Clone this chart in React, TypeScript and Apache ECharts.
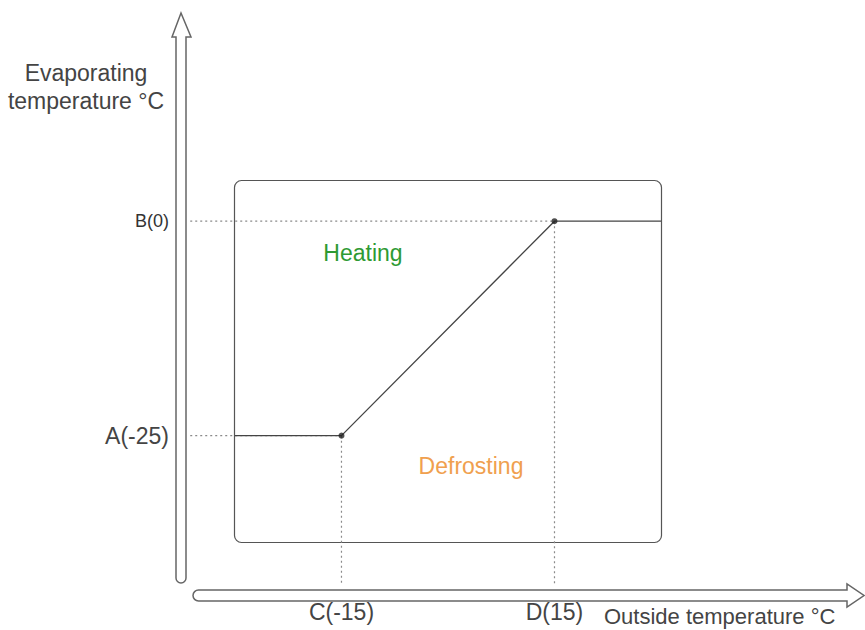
import React, { useEffect, useRef } from "react";
import * as echarts from "echarts";

// ---- data ----
const X_TICK_VALUES = [-15, 15];
const X_TICK_NAMES = ["C(-15)", "D(15)"];
const Y_TICK_VALUES = [-25, 0];
const Y_TICK_NAMES = ["A(-25)", "B(0)"];
const CURVE_X = [-30, -15, 15, 30];
const CURVE_Y = [-25, -25, 0, 0];
const BREAK_X = [-15, 15];
const BREAK_Y = [-25, 0];
const X_RANGE = [-37.6, 30];
const Y_RANGE = [-37.4, 4.8];
const GUIDE_X_START = -36.3;
const GUIDE_Y_END = -42.4;
const ZONE_NAMES = ["Heating", "Defrosting"];

const FONT = "'Liberation Sans', Arial, sans-serif";

echarts.graphic.registerShape(
  "arrowV",
  echarts.graphic.extendPath(
    "M176 578 L176 37 L172 37 L181 13 L191 37 L186 37 L186 578 A5 5 0 0 1 176 578 Z",
    {}
  )
);
echarts.graphic.registerShape(
  "arrowH",
  echarts.graphic.extendPath(
    "M198.5 590 L847 590 L847 584 L864 595.5 L847 607 L847 601 L198.5 601 A5.5 5.5 0 0 1 198.5 590 Z",
    {}
  )
);

export default function App() {
  const ref = useRef<HTMLDivElement>(null);
  useEffect(() => {
    if (!ref.current) return;
    const chart = echarts.init(ref.current, undefined, { renderer: "svg" });
    const curve = CURVE_X.map((x, i) => [x, CURVE_Y[i]]);
    const breaks = BREAK_X.map((x, i) => [x, BREAK_Y[i]]);
    const guideStyle = { color: "#8a8a8a", width: 1.2, type: [2, 3] };
    const guides: any[] = [];
    breaks.forEach(([x, y]) => {
      guides.push({
        type: "line",
        data: [
          [GUIDE_X_START, y],
          [x, y],
        ],
        symbol: "none",
        clip: false,
        silent: true,
        lineStyle: guideStyle,
        z: 1,
      });
      guides.push({
        type: "line",
        data: [
          [x, y],
          [x, GUIDE_Y_END],
        ],
        symbol: "none",
        clip: false,
        silent: true,
        lineStyle: guideStyle,
        z: 1,
      });
    });
    const textStyle = (
      text: string,
      size: number,
      fill: string,
      align: string = "center"
    ) => ({
      text,
      fontSize: size,
      fontFamily: FONT,
      fill,
      align,
      verticalAlign: "middle",
    });
    chart.setOption({
      animation: false,
      backgroundColor: "#ffffff",
      grid: { left: 181, right: 204, top: 180, bottom: 88 },
      xAxis: {
        type: "value",
        min: X_RANGE[0],
        max: X_RANGE[1],
        offset: 50,
        axisLine: { show: false },
        axisTick: { show: false },
        splitLine: { show: false },
        axisLabel: {
          customValues: X_TICK_VALUES,
          formatter: (v: number) => X_TICK_NAMES[X_TICK_VALUES.indexOf(v)] ?? "",
          margin: 8,
          color: "#444",
          fontSize: 23,
          fontFamily: FONT,
        },
      },
      yAxis: {
        type: "value",
        min: Y_RANGE[0],
        max: Y_RANGE[1],
        offset: 6,
        axisLine: { show: false },
        axisTick: { show: false },
        splitLine: { show: false },
        axisLabel: {
          customValues: Y_TICK_VALUES,
          formatter: (v: number) => {
            const i = Y_TICK_VALUES.indexOf(v);
            if (i < 0) return "";
            return i === 0 ? `{a|${Y_TICK_NAMES[i]}}` : `{b|${Y_TICK_NAMES[i]}}`;
          },
          margin: 6,
          color: "#444",
          fontFamily: FONT,
          rich: {
            a: { fontSize: 23, color: "#444", fontFamily: FONT },
            b: { fontSize: 18, color: "#333", fontFamily: FONT },
          },
        },
      },
      graphic: [
        {
          type: "rect",
          shape: { x: 234.5, y: 180.5, width: 427, height: 362, r: 7 },
          style: { fill: "none", stroke: "#555", lineWidth: 1.2 },
          z: 0,
          silent: true,
        },
        {
          type: "arrowV",
          x: 0,
          y: 0,
          style: { fill: "#fff", stroke: "#666", lineWidth: 1.5 },
          silent: true,
        },
        {
          type: "arrowH",
          x: 0,
          y: 0,
          style: { fill: "#fff", stroke: "#666", lineWidth: 1.5 },
          silent: true,
        },
        { type: "text", x: 86, y: 73, style: textStyle("Evaporating", 23, "#444") },
        { type: "text", x: 86, y: 101, style: textStyle("temperature °C", 23, "#444") },
        {
          type: "text",
          x: 604,
          y: 616,
          style: textStyle("Outside temperature °C", 22, "#444", "left"),
        },
        { type: "text", x: 363, y: 253, style: textStyle(ZONE_NAMES[0], 23, "#2e9a33") },
        { type: "text", x: 471, y: 466, style: textStyle(ZONE_NAMES[1], 23, "#f0a04e") },
      ],
      series: [
        ...guides,
        {
          type: "line",
          data: curve,
          symbol: "none",
          clip: false,
          silent: true,
          lineStyle: { color: "#444", width: 1.3 },
          z: 3,
        },
        {
          type: "scatter",
          data: breaks,
          symbolSize: 6,
          clip: false,
          silent: true,
          itemStyle: { color: "#222" },
          z: 4,
        },
      ],
    });
    return () => chart.dispose();
  }, []);
  return (
    <div
      ref={ref}
      style={{ position: "fixed", left: 0, top: 0, width: 865, height: 630 }}
    />
  );
}
